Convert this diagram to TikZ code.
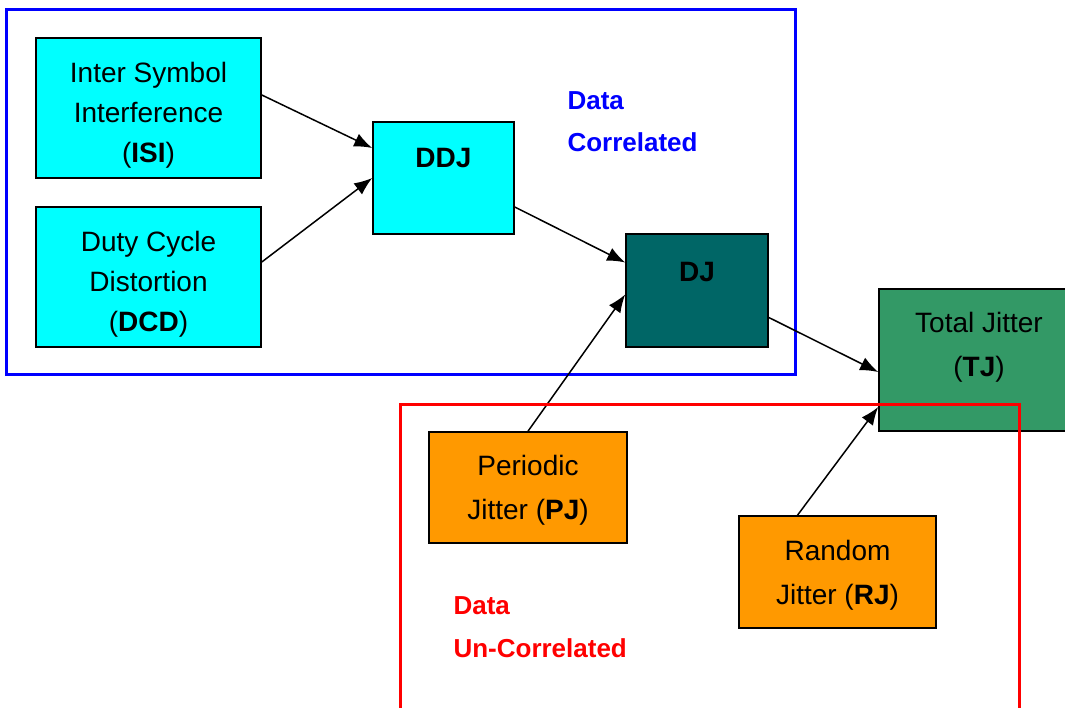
\documentclass[tikz,border=0pt]{standalone}
\usepackage{fontspec}
\setmainfont{Liberation Sans}
\usetikzlibrary{arrows.meta}
\definecolor{boxcyan}{HTML}{00FFFF}
\definecolor{djteal}{HTML}{006666}
\definecolor{tjgreen}{HTML}{339966}
\definecolor{boxorange}{HTML}{FF9900}

\begin{document}
\begin{tikzpicture}[x=1pt, y=-1pt,
        box/.style={draw, line width=1.6pt, align=center, inner sep=0pt,
            font=\fontsize{28}{44}\selectfont},
        tallbox/.style={box, font=\fontsize{28}{40}\selectfont},
        link/.style={-{Latex[length=18pt, width=14pt]}, line width=1.5pt}]
        \useasboundingbox (0,0) rectangle (1065,708);

        \draw[blue, line width=3pt] (6,10) rectangle (795,374);

        \node[tallbox, fill=boxcyan, minimum width=225pt, minimum height=140pt] (isi) at (148.5,108) {\rule{0pt}{34pt}Inter Symbol\\Interference\\(\textbf{ISI})};
        \node[tallbox, fill=boxcyan, minimum width=225pt, minimum height=140pt] (dcd) at (148.5,277) {\rule{0pt}{34pt}Duty Cycle\\Distortion\\(\textbf{DCD})};
        \node[box, fill=boxcyan, minimum width=141pt, minimum height=112pt, text depth=40pt] (ddj) at (443.5,178) {\textbf{DDJ}};
        \node[box, fill=djteal, minimum width=142pt, minimum height=113pt, text depth=38pt] (dj) at (697,290.5) {\textbf{DJ}};
        \node[box, fill=tjgreen, minimum width=200pt, minimum height=142pt] (tj) at (979,360) {Total Jitter\\(\textbf{TJ})\\[-13pt]\mbox{}};
        \node[box, fill=boxorange, minimum width=198pt, minimum height=111pt] (pj) at (528,487.5) {\rule{0pt}{26pt}Periodic\\Jitter (\textbf{PJ})};
        \node[box, fill=boxorange, minimum width=197pt, minimum height=112pt] (rj) at (837.5,572) {\rule{0pt}{27pt}Random\\Jitter (\textbf{RJ})};

        \node[anchor=west, blue, align=left, font=\bfseries\fontsize{26}{42}\selectfont] (dc) at (564,122) {Data\\Correlated};
        \node[anchor=west, red, align=left, font=\bfseries\fontsize{26}{43}\selectfont] (duc) at (450,627) {Data\\Un-Correlated};

        \draw[link] ([yshift=13pt]isi.east) -- ([yshift=30pt]ddj.west);
        \draw[link] ([yshift=15pt]dcd.east) -- (ddj.west);
        \draw[link] ([yshift=-29pt]ddj.east) -- ([yshift=28pt]dj.west);
        \draw[link] (pj.north) -- ([yshift=-4pt]dj.west);
        \draw[link] ([yshift=-27pt]dj.east) -- ([yshift=-12pt]tj.west);
        \draw[link] ([xshift=-40pt]rj.north) -- ([yshift=-47pt]tj.west);

        \draw[red, line width=3pt] (400,404) rectangle (1019,730);
    \end{tikzpicture}
\end{document}
